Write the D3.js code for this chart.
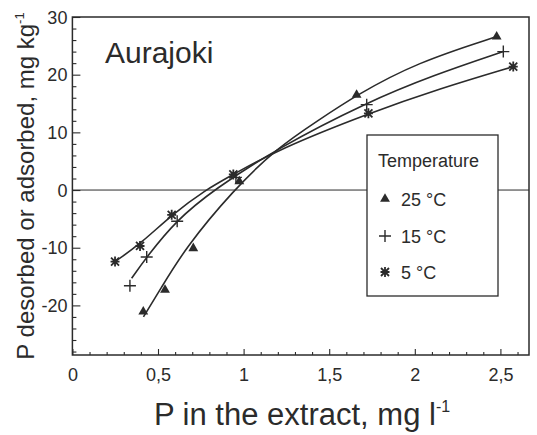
<!DOCTYPE html>
<html>
<head>
<meta charset="utf-8">
<script src="https://cdn.jsdelivr.net/npm/d3@7"></script>
<style>
  html, body { margin: 0; padding: 0; background: #fff; }
  svg { display: block; }
  text { font-family: "Liberation Sans", Arial, Helvetica, sans-serif; fill: #2b2b2b; }
</style>
</head>
<body>
<svg id="chart" width="537" height="435"></svg>
<script>
// ---- Data ----
const seriesNames = ["25 °C", "15 °C", "5 °C"];
const seriesSymbols = ["triangle", "plus", "asterisk"];
// measured points
const x25 = [0.414, 0.541, 0.706, 0.975, 1.66, 2.478];
const y25 = [-21.1, -17.3, -10.1, 1.5, 16.5, 26.6];
const x15 = [0.336, 0.434, 0.612, 0.955, 1.719, 2.517];
const y15 = [-16.6, -11.6, -5.4, 2.2, 14.8, 24.0];
const x5  = [0.249, 0.395, 0.58, 0.94, 1.729, 2.575];
const y5  = [-12.4, -9.7, -4.3, 2.7, 13.3, 21.4];
// fitted curves as drawn in the figure
const fit25X = [0.415, 0.512, 0.658, 0.94, 1.2, 1.427, 1.66, 2.011, 2.478];
const fit25Y = [-22.0, -17.3, -10.1, 0.0, 7.4, 11.9, 16.5, 22.1, 26.6];
const fit15X = [0.346, 0.434, 0.609, 0.823, 1.2, 1.719, 2.108, 2.517];
const fit15Y = [-15.3, -11.6, -5.2, 0.0, 7.3, 15.2, 19.9, 24.0];
const fit5X  = [0.249, 0.395, 0.58, 0.775, 0.94, 1.2, 1.729, 2.147, 2.575];
const fit5Y  = [-12.4, -9.4, -4.3, 0.0, 2.7, 7.0, 13.3, 17.6, 21.4];
const xTickValues = [0, 0.5, 1, 1.5, 2, 2.5];
const xTickLabels = ["0", "0,5", "1", "1,5", "2", "2,5"];
const yTickValues = [-20, -10, 0, 10, 20, 30];
const yTickLabels = ["-20", "-10", "0", "10", "20", "30"];
const title = "Aurajoki";
const legendTitle = "Temperature";
const xTitle = "P in the extract, mg l";
const yTitle = "P desorbed or adsorbed, mg kg";

const series = [
  { name: seriesNames[0], sym: seriesSymbols[0], xs: x25, ys: y25, fx: fit25X, fy: fit25Y },
  { name: seriesNames[1], sym: seriesSymbols[1], xs: x15, ys: y15, fx: fit15X, fy: fit15Y },
  { name: seriesNames[2], sym: seriesSymbols[2], xs: x5,  ys: y5,  fx: fit5X,  fy: fit5Y }
];

const ink = "#2b2b2b";
const svg = d3.select("#chart");
const L = 72.4, R = 529, T = 17, B = 355;

const x = d3.scaleLinear().domain([0, 2.667]).range([L, R]);
const y = d3.scaleLinear().domain([-28.6, 30]).range([B, T]);

// zero line
svg.append("line")
  .attr("x1", L).attr("x2", R).attr("y1", y(0)).attr("y2", y(0))
  .attr("stroke", ink).attr("stroke-width", 1);

// minor ticks
const xMinor = d3.range(0, 27).map(i => i / 10).filter(v => xTickValues.indexOf(v) < 0);
const yMinor = d3.range(-28, 31, 2).filter(v => yTickValues.indexOf(v) < 0);

const gxm = svg.append("g").attr("transform", `translate(0,${B})`)
  .call(d3.axisBottom(x).tickValues(xMinor).tickSize(-3).tickFormat(""));
const gym = svg.append("g").attr("transform", `translate(${L},0)`)
  .call(d3.axisLeft(y).tickValues(yMinor).tickSize(-4).tickFormat(""));

const gx = svg.append("g").attr("transform", `translate(0,${B})`)
  .call(d3.axisBottom(x).tickValues(xTickValues).tickSize(-6).tickPadding(13)
    .tickFormat((d, i) => xTickLabels[i]));
const gy = svg.append("g").attr("transform", `translate(${L},0)`)
  .call(d3.axisLeft(y).tickValues(yTickValues).tickSize(-8).tickPadding(5)
    .tickFormat((d, i) => yTickLabels[i]));

[gxm, gym, gx, gy].forEach(g => {
  g.select(".domain").remove();
  g.selectAll(".tick line").attr("stroke", ink).attr("stroke-width", 1.1);
});
gx.selectAll(".tick text").attr("font-size", 18).attr("fill", ink)
  .attr("font-family", "'Liberation Sans', Arial, sans-serif");
gy.selectAll(".tick text").attr("font-size", 18).attr("fill", ink).attr("dy", "0.34em")
  .attr("font-family", "'Liberation Sans', Arial, sans-serif");

// fitted curves
const line = d3.line().x(d => x(d[0])).y(d => y(d[1])).curve(d3.curveBasis);
series.forEach(s => {
  const pts = s.fx.map((v, i) => [v, s.fy[i]]);
  svg.append("path").attr("d", line(pts)).attr("fill", "none")
    .attr("stroke", ink).attr("stroke-width", 1.6);
});

// markers
function drawSymbol(g, sym, cx, cy) {
  if (sym === "triangle") {
    g.append("path").attr("d", d3.symbol(d3.symbolTriangle, 42)())
      .attr("transform", `translate(${cx},${cy})`).attr("fill", ink);
  } else if (sym === "plus") {
    g.append("path").attr("d", "M-6,0H6M0,-6V6")
      .attr("transform", `translate(${cx},${cy})`).attr("stroke", ink).attr("stroke-width", 1.4).attr("fill", "none");
  } else {
    g.append("path").attr("d", "M-4.5,0H4.5M0,-5V5M-4,-4L4,4M-4,4L4,-4")
      .attr("transform", `translate(${cx},${cy})`).attr("stroke", ink).attr("stroke-width", 1.8).attr("fill", "none");
    g.append("circle").attr("cx", cx).attr("cy", cy).attr("r", 2.2).attr("fill", ink);
  }
}
const gm = svg.append("g");
series.forEach(s => s.xs.forEach((v, i) => drawSymbol(gm, s.sym, x(v), y(s.ys[i]))));

// frame
svg.append("rect").attr("x", L).attr("y", T).attr("width", R - L).attr("height", B - T)
  .attr("fill", "none").attr("stroke", ink).attr("stroke-width", 1.5);

// title
svg.append("text").attr("x", 105).attr("y", 63).attr("font-size", 30).text(title);

// legend
const lg = svg.append("g");
lg.append("rect").attr("x", 367).attr("y", 135).attr("width", 131).attr("height", 161)
  .attr("fill", "#fff").attr("stroke", ink).attr("stroke-width", 1.3);
lg.append("text").attr("x", 378).attr("y", 167).attr("font-size", 18).text(legendTitle);
const rowY = [199, 236, 272];
series.forEach((s, i) => {
  drawSymbol(lg, s.sym, 385, rowY[i]);
  lg.append("text").attr("x", 401).attr("y", rowY[i] + 7).attr("font-size", 18).text(s.name);
});

// axis titles
const xt = svg.append("text").attr("x", 302).attr("y", 425).attr("text-anchor", "middle")
  .attr("font-size", 31).text(xTitle);
xt.append("tspan").attr("font-size", 16).attr("dy", -13).text("-1");

const yt = svg.append("text").attr("transform", "translate(34,186) rotate(-90)")
  .attr("text-anchor", "middle").attr("font-size", 24).text(yTitle);
yt.append("tspan").attr("font-size", 13).attr("dy", -10).text("-1");
</script>
</body>
</html>
